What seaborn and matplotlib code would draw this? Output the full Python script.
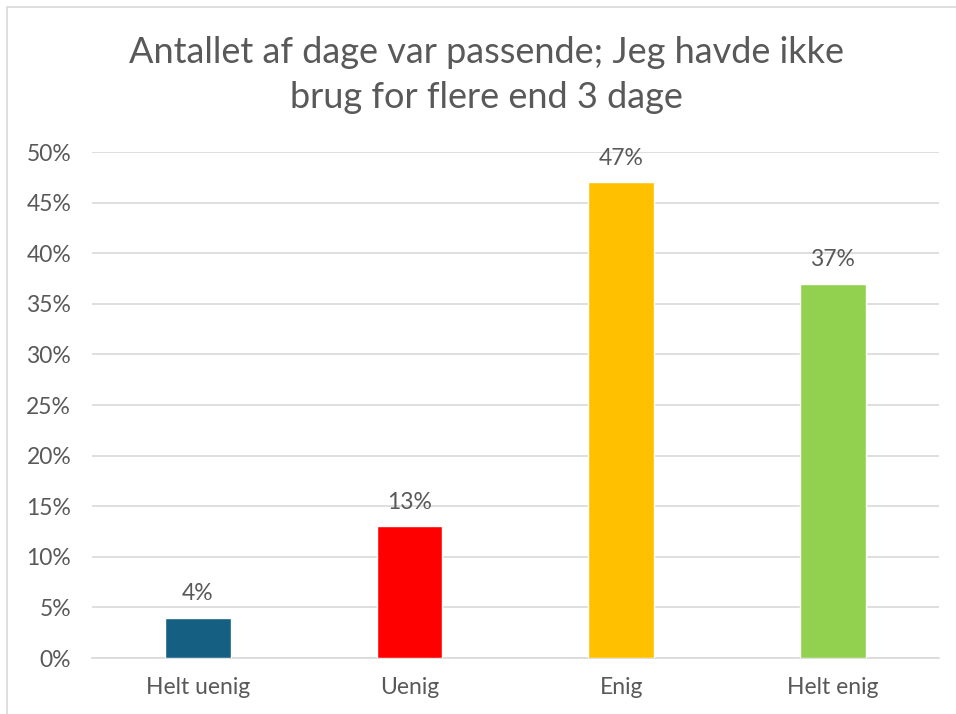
import matplotlib
matplotlib.use("Agg")
import matplotlib.pyplot as plt
import pandas as pd
import seaborn as sns
from matplotlib.patches import Rectangle
from matplotlib.ticker import PercentFormatter

categories = ["Helt uenig", "Uenig", "Enig", "Helt enig"]
shares = [4, 13, 47, 37]
bar_colors = ["#156082", "#FF0000", "#FFC000", "#92D050"]
title = "Antallet af dage var passende; Jeg havde ikke\nbrug for flere end 3 dage"

df = pd.DataFrame({"svar": categories, "andel": shares})

sns.set_theme(style="white")
plt.rcParams["font.family"] = ["Lato", "DejaVu Sans"]
text_col = "#595959"

fig = plt.figure(figsize=(9.56, 7.14), dpi=100)
ax = fig.add_axes([0.0962, 0.0784, 0.8858, 0.7086])

sns.barplot(data=df, x="svar", y="andel", hue="svar", palette=bar_colors,
            width=0.31, legend=False, saturation=1, ax=ax, zorder=3)

for cont in ax.containers:
    ax.bar_label(cont, labels=[f"{v:.0f}%" for v in cont.datavalues],
                 padding=10, fontsize=16.5, color=text_col)

ax.set_ylim(0, 50)
ax.set_xlim(-0.5, 3.5)
ax.set_yticks(range(0, 51, 5))
ax.yaxis.set_major_formatter(PercentFormatter(decimals=0))
ax.grid(axis="y", color="#D9D9D9", linewidth=1.2, zorder=0)
for side in ["top", "right", "left"]:
    ax.spines[side].set_visible(False)
ax.spines["bottom"].set_color("#D9D9D9")
ax.spines["bottom"].set_linewidth(1.2)
ax.tick_params(axis="both", length=0, labelsize=16.5, labelcolor=text_col)
ax.tick_params(axis="y", pad=15)
ax.tick_params(axis="x", pad=14)
ax.set_xlabel("")
ax.set_ylabel("")

fig.text(0.509, 0.895, title, ha="center", va="center", fontsize=26,
         color=text_col, linespacing=1.42)

fig.patches.append(Rectangle((7 / 956, -0.1), 1.2, 1 - 7 / 714 + 0.1,
                             transform=fig.transFigure, fill=False,
                             edgecolor="#D9D9D9", linewidth=1.2))

fig.savefig("out.png", dpi=100)
